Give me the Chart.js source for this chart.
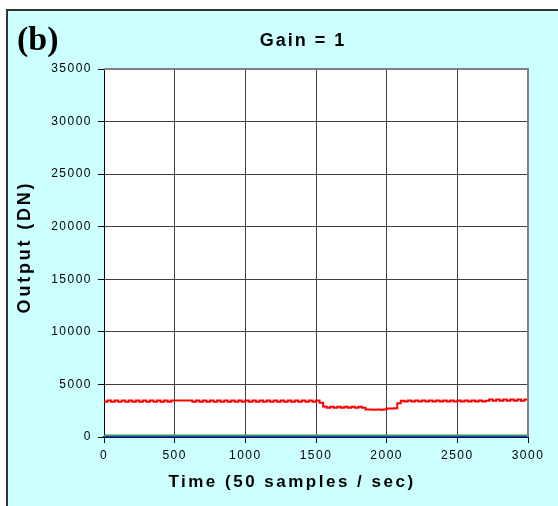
<!DOCTYPE html>
<html>
<head>
<meta charset="utf-8">
<script src="https://cdn.jsdelivr.net/npm/chart.js@4"></script>
<style>
  body { margin: 0; background: #fff; }
  canvas { display: block; }
</style>
</head>
<body>
<canvas id="gainChart" width="558" height="506"></canvas>
<script>
// Output vs time, gain 1

const redTimes = [
  0, 25, 50, 75, 100, 125, 150, 175, 200, 225, 250, 275, 300, 325, 350, 375, 400, 425, 450, 475,
  500, 525, 550, 575, 600,
  625, 650, 675, 700, 725, 750, 775, 800, 825, 850, 875, 900, 925, 950, 975, 1000, 1025, 1050,
  1075, 1100, 1125, 1150, 1175, 1200, 1225, 1250, 1275, 1300, 1325, 1350, 1375, 1400, 1425, 1450, 1475, 1500,
  1525, 1550,
  1575, 1600, 1625, 1650, 1675, 1700, 1725, 1750, 1775, 1800, 1825,
  1850, 1875, 1900, 1925, 1950, 1975,
  2000, 2025, 2050, 2075, 2100,
  2125, 2150, 2175, 2200, 2225, 2250, 2275, 2300, 2325, 2350, 2375, 2400, 2425, 2450, 2475, 2500,
  2525, 2550, 2575, 2600, 2625, 2650, 2675,
  2700, 2725, 2750, 2775, 2800, 2825, 2850, 2875, 2900, 2925, 2950, 2975, 3000
];
const redValues = [
  3350, 3480, 3350, 3480, 3350, 3480, 3350, 3480, 3350, 3480, 3350, 3480, 3350, 3480, 3350, 3480, 3350, 3480, 3350, 3480,
  3480, 3480, 3480, 3480, 3480,
  3350, 3480, 3350, 3480, 3350, 3480, 3350, 3480, 3350, 3480, 3350, 3480, 3350, 3480, 3350, 3480, 3350, 3480,
  3350, 3480, 3350, 3480, 3350, 3480, 3350, 3480, 3350, 3480, 3350, 3480, 3350, 3480, 3350, 3480, 3350, 3480,
  3250, 2900,
  2780, 2880, 2780, 2880, 2780, 2880, 2780, 2880, 2780, 2880, 2780,
  2620, 2620, 2580, 2620, 2580, 2620,
  2720, 2720, 2740, 3200, 3450,
  3380, 3480, 3380, 3480, 3380, 3480, 3380, 3480, 3380, 3480, 3380, 3480, 3380, 3480, 3380, 3480,
  3380, 3480, 3380, 3480, 3380, 3480, 3380,
  3450, 3560, 3450, 3560, 3450, 3560, 3450, 3560, 3450, 3560, 3450, 3560, 3520
];
const greenTimes = [0, 3000];
const greenValues = [150, 150];

const xTicks = [0, 500, 1000, 1500, 2000, 2500, 3000];
const yTicks = [0, 5000, 10000, 15000, 20000, 25000, 30000, 35000];

const chartTitle = 'Gain = 1';
const panelLabel = '(b)';
const xTitle = 'Time (50 samples / sec)';
const yTitle = 'Output (DN)';

const toPoints = (xs, ys) => xs.map((x, i) => ({ x, y: ys[i] }));

const SANS = '"Liberation Sans", Arial, sans-serif';

// Figure frame + plot background
const framePlugin = {
  id: 'frame',
  beforeLayout(chart) { chart.ctx.letterSpacing = '1.5px'; },
  beforeDraw(chart) {
    const { ctx, chartArea: a } = chart;
    ctx.save();
    ctx.fillStyle = '#fff';
    ctx.fillRect(0, 0, chart.width, chart.height);
    ctx.fillStyle = '#CCFFFF';
    ctx.fillRect(7, 10, chart.width - 7, chart.height - 10);
    ctx.strokeStyle = '#333';
    ctx.lineWidth = 2;
    ctx.beginPath();
    ctx.moveTo(6, 10); ctx.lineTo(chart.width, 10);
    ctx.moveTo(7, 10); ctx.lineTo(7, chart.height);
    ctx.stroke();
    ctx.fillStyle = '#fff';
    ctx.fillRect(a.left, a.top, a.right - a.left, a.bottom - a.top);
    ctx.restore();
    ctx.letterSpacing = '1.5px';
  },
  afterDraw(chart) {
    const { ctx, chartArea: a } = chart;
    ctx.save();
    ctx.strokeStyle = '#808080';
    ctx.lineWidth = 2;
    ctx.beginPath();
    ctx.moveTo(a.left, a.top); ctx.lineTo(a.right, a.top); ctx.lineTo(a.right, a.bottom);
    ctx.stroke();

    ctx.fillStyle = '#000';
    ctx.letterSpacing = '0px';
    ctx.textAlign = 'left';
    ctx.textBaseline = 'alphabetic';
    ctx.font = 'bold 34px "Liberation Serif", "Times New Roman", serif';
    ctx.fillText(panelLabel, 17, 50);

    ctx.textAlign = 'center';
    ctx.letterSpacing = '2px';
    ctx.font = 'bold 18px ' + SANS;
    ctx.fillText(chartTitle, 303, 46);

    ctx.letterSpacing = '2.5px';
    ctx.font = 'bold 17px ' + SANS;
    ctx.fillText(xTitle, 292, 487);

    ctx.letterSpacing = '2.8px';
    ctx.font = 'bold 18px ' + SANS;
    ctx.translate(25, 247);
    ctx.rotate(-Math.PI / 2);
    ctx.textBaseline = 'middle';
    ctx.fillText(yTitle, 0, 0);
    ctx.restore();
  }
};

const tickFont = { family: SANS, size: 12 };
const plainLabel = v => String(v);

new Chart(document.getElementById('gainChart'), {
  type: 'line',
  data: {
    datasets: [
      {
        label: 'green',
        data: toPoints(greenTimes, greenValues),
        borderColor: '#339966',
        borderWidth: 2,
        pointRadius: 0
      },
      {
        label: 'red',
        data: toPoints(redTimes, redValues),
        borderColor: '#FF0000',
        borderWidth: 2,
        pointRadius: 0,
        stepped: true
      }
    ]
  },
  options: {
    responsive: false,
    animation: false,
    layout: { padding: { top: 69, right: 30, bottom: 0, left: 0 } },
    plugins: {
      legend: { display: false },
      title: { display: false },
      tooltip: { enabled: false }
    },
    scales: {
      x: {
        type: 'linear',
        min: 0,
        max: 3000,
        afterBuildTicks: s => { s.ticks = xTicks.map(v => ({ value: v })); },
        afterFit: s => { s.height = 69; },
        ticks: { color: '#000', font: tickFont, padding: 5, maxRotation: 0, callback: plainLabel },
        grid: { color: '#404040', tickColor: '#000', tickLength: 6, lineWidth: 1 },
        border: { color: '#000080', width: 2 }
      },
      y: {
        min: 0,
        max: 35000,
        afterBuildTicks: s => { s.ticks = yTicks.map(v => ({ value: v })); },
        afterFit: s => { s.width = 104; },
        ticks: { color: '#000', font: tickFont, padding: 6, callback: plainLabel },
        grid: { color: '#404040', tickColor: '#000', tickLength: 6, lineWidth: 1 },
        border: { color: '#000', width: 1 }
      }
    }
  },
  plugins: [framePlugin]
});
</script>
</body>
</html>
